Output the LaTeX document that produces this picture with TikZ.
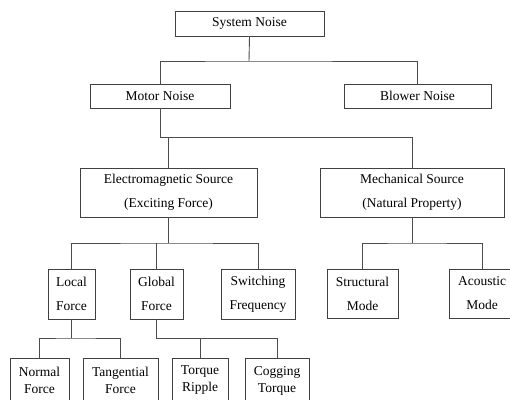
\documentclass[tikz,border=0pt]{standalone}
\usepackage{fontspec}
\setmainfont{Liberation Serif}
\usepackage{tikz}

\begin{document}
\begin{tikzpicture}[x=1pt, y=-1pt,
    block/.style = {draw=black!75, line width=0.9pt, inner sep=0pt, align=center,
                    font=\fontsize{13.5}{24}\selectfont},
    leaf/.style = {block, minimum height=45, font=\fontsize{13.5}{17}\selectfont},
    link/.style = {draw=black!70, line width=0.9pt}]
            \useasboundingbox (0,0) rectangle (510,399);
            \clip (0,0) rectangle (510,399);
            \node[block, minimum width=149, minimum height=25] (sys) at (249.5,23.5) {System Noise};
            \node[block, minimum width=140, minimum height=24] (motor) at (160,96) {Motor Noise};
            \node[block, minimum width=147, minimum height=24] (blower) at (417.5,96) {Blower Noise};
            \node[block, minimum width=177, minimum height=49] (em) at (168.5,192.5) {Electromagnetic Source\\(Exciting Force)};
            \node[block, minimum width=184, minimum height=49] (mech) at (412,192.5) {Mechanical Source\\(Natural Property)};
            \node[block, minimum width=47, minimum height=50] (local) at (71.5,294) {Local\\Force};
            \node[block, minimum width=53, minimum height=50] (global) at (156.5,294) {Global\\Force};
            \node[block, minimum width=74, minimum height=50] (switch) at (258,294) {Switching\\Frequency};
            \node[block, minimum width=71, minimum height=49] (struct) at (362.5,293.5) {Structural\\Mode};
            \node[block, minimum width=66, minimum height=49] (acoustic) at (482,293.5) {Acoustic\\Mode};
            \node[leaf, minimum width=59] (normal) at (39.5,380.5) {Normal\\Force};
            \node[leaf, minimum width=75] (tang) at (120.5,380.5) {Tangential\\Force};
            \node[leaf, minimum width=56] (ripple) at (200,380.5) {Torque\\Ripple};
            \node[leaf, minimum width=64] (cogging) at (277,380.5) {Cogging\\Torque};
            \coordinate (j1) at (249,61);
            \coordinate (j2) at (160,137);
            \coordinate (j3) at (168.5,243);
            \coordinate (j4) at (412,243);
            \coordinate (j5) at (71.5,338);
            \coordinate (j6) at (156.5,338);
            \draw[link] (sys.south) -- (j1);
                \draw[link] (motor.north) |- (j1) -| (blower.north);
                \draw[link] (motor.south) -- (j2) -| (mech.north);
                \draw[link] (em.north) |- (j2);
                \draw[link] (em.south) -- (j3);
                \draw[link] (local.north) |- (j3) -| (switch.north);
                \draw[link] (global.north) -- (global.north |- j3);
                \draw[link] (mech.south) -- (j4);
                \draw[link] (struct.north) |- (j4) -| (acoustic.north);
                \draw[link] (local.south) -- (j5);
                \draw[link] (normal.north) |- (j5) -| (tang.north);
                \draw[link] (global.south) -- (j6) -| (cogging.north);
                \draw[link] (ripple.north) -- (ripple.north |- j6);
        \end{tikzpicture}
\end{document}
